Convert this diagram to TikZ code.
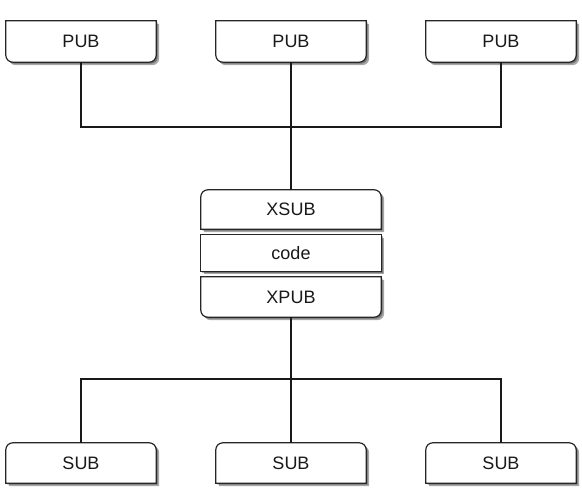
\documentclass[tikz,border=0pt]{standalone}
\usepackage{fontspec}
\setmainfont{Liberation Sans}
\usetikzlibrary{backgrounds,shadows}
\tikzset{
  lbl/.style={draw=none, inner sep=0pt, font=\fontsize{18}{20}\selectfont, text=black!90},
  outline/.style={draw=black!85, line width=1.2pt, fill=white,
     general shadow={shadow xshift=3pt, shadow yshift=-3pt, fill=black, opacity=0.35},
     general shadow={shadow xshift=1.5pt, shadow yshift=-1.5pt, fill=black, opacity=0.3}},
  wire/.style={draw=black!90, line width=1.2pt},
}
\newcommand\rbot[1]{%
  \path[outline] (#1.north west) -- (#1.north east) -- ([yshift=7pt]#1.south east)
    arc[start angle=0,end angle=-90,radius=7pt] -- ([xshift=7pt]#1.south west)
    arc[start angle=270,end angle=180,radius=7pt] -- cycle;}
\newcommand\rtop[1]{%
  \path[outline] (#1.south west) -- (#1.south east) -- ([yshift=-7pt]#1.north east)
    arc[start angle=0,end angle=90,radius=7pt] -- ([xshift=7pt]#1.north west)
    arc[start angle=90,end angle=180,radius=7pt] -- cycle;}
\newcommand\rnone[1]{%
  \path[outline] (#1.south west) rectangle (#1.north east);}
\begin{document}
\begin{tikzpicture}
\useasboundingbox (0,0) rectangle (582pt,-500pt);
\begin{scope}[x=1pt,y=1pt]
  % top publishers
  \node[lbl, minimum width=150pt, minimum height=41pt] (pub1) at (81,-41.5) {PUB};
  \node[lbl, minimum width=150pt, minimum height=41pt] (pub2) at (291,-41.5) {PUB};
  \node[lbl, minimum width=150pt, minimum height=41pt] (pub3) at (501,-41.5) {PUB};
  % proxy stack
  \node[lbl, minimum width=180pt, minimum height=39pt] (xsub) at (291,-209.5) {XSUB};
  \node[lbl, minimum width=180pt, minimum height=36pt] (code) at (291,-253) {code};
  \node[lbl, minimum width=180pt, minimum height=40pt] (xpub) at (291,-297) {XPUB};
  % bottom subscribers
  \node[lbl, minimum width=150pt, minimum height=40pt] (sub1) at (81,-463) {SUB};
  \node[lbl, minimum width=150pt, minimum height=40pt] (sub2) at (291,-463) {SUB};
  \node[lbl, minimum width=150pt, minimum height=40pt] (sub3) at (501,-463) {SUB};
  \coordinate (bus1) at (291,-127);
  \coordinate (bus2) at (291,-379);
  \begin{scope}[on background layer]
    \rbot{pub1}\rbot{pub2}\rbot{pub3}
    \rtop{xsub}\rnone{code}\rbot{xpub}
    \rtop{sub1}\rtop{sub2}\rtop{sub3}
  \end{scope}
  \draw[wire] (pub1.south) |- (bus1) -| (pub3.south);
  \draw[wire] (pub2.south) -- (xsub.north);
  \draw[wire] (xpub.south) -- (bus2);
  \draw[wire] (sub1.north) |- (bus2) -| (sub3.north);
  \draw[wire] (bus2) -- (sub2.north);
\end{scope}
\end{tikzpicture}
\end{document}
